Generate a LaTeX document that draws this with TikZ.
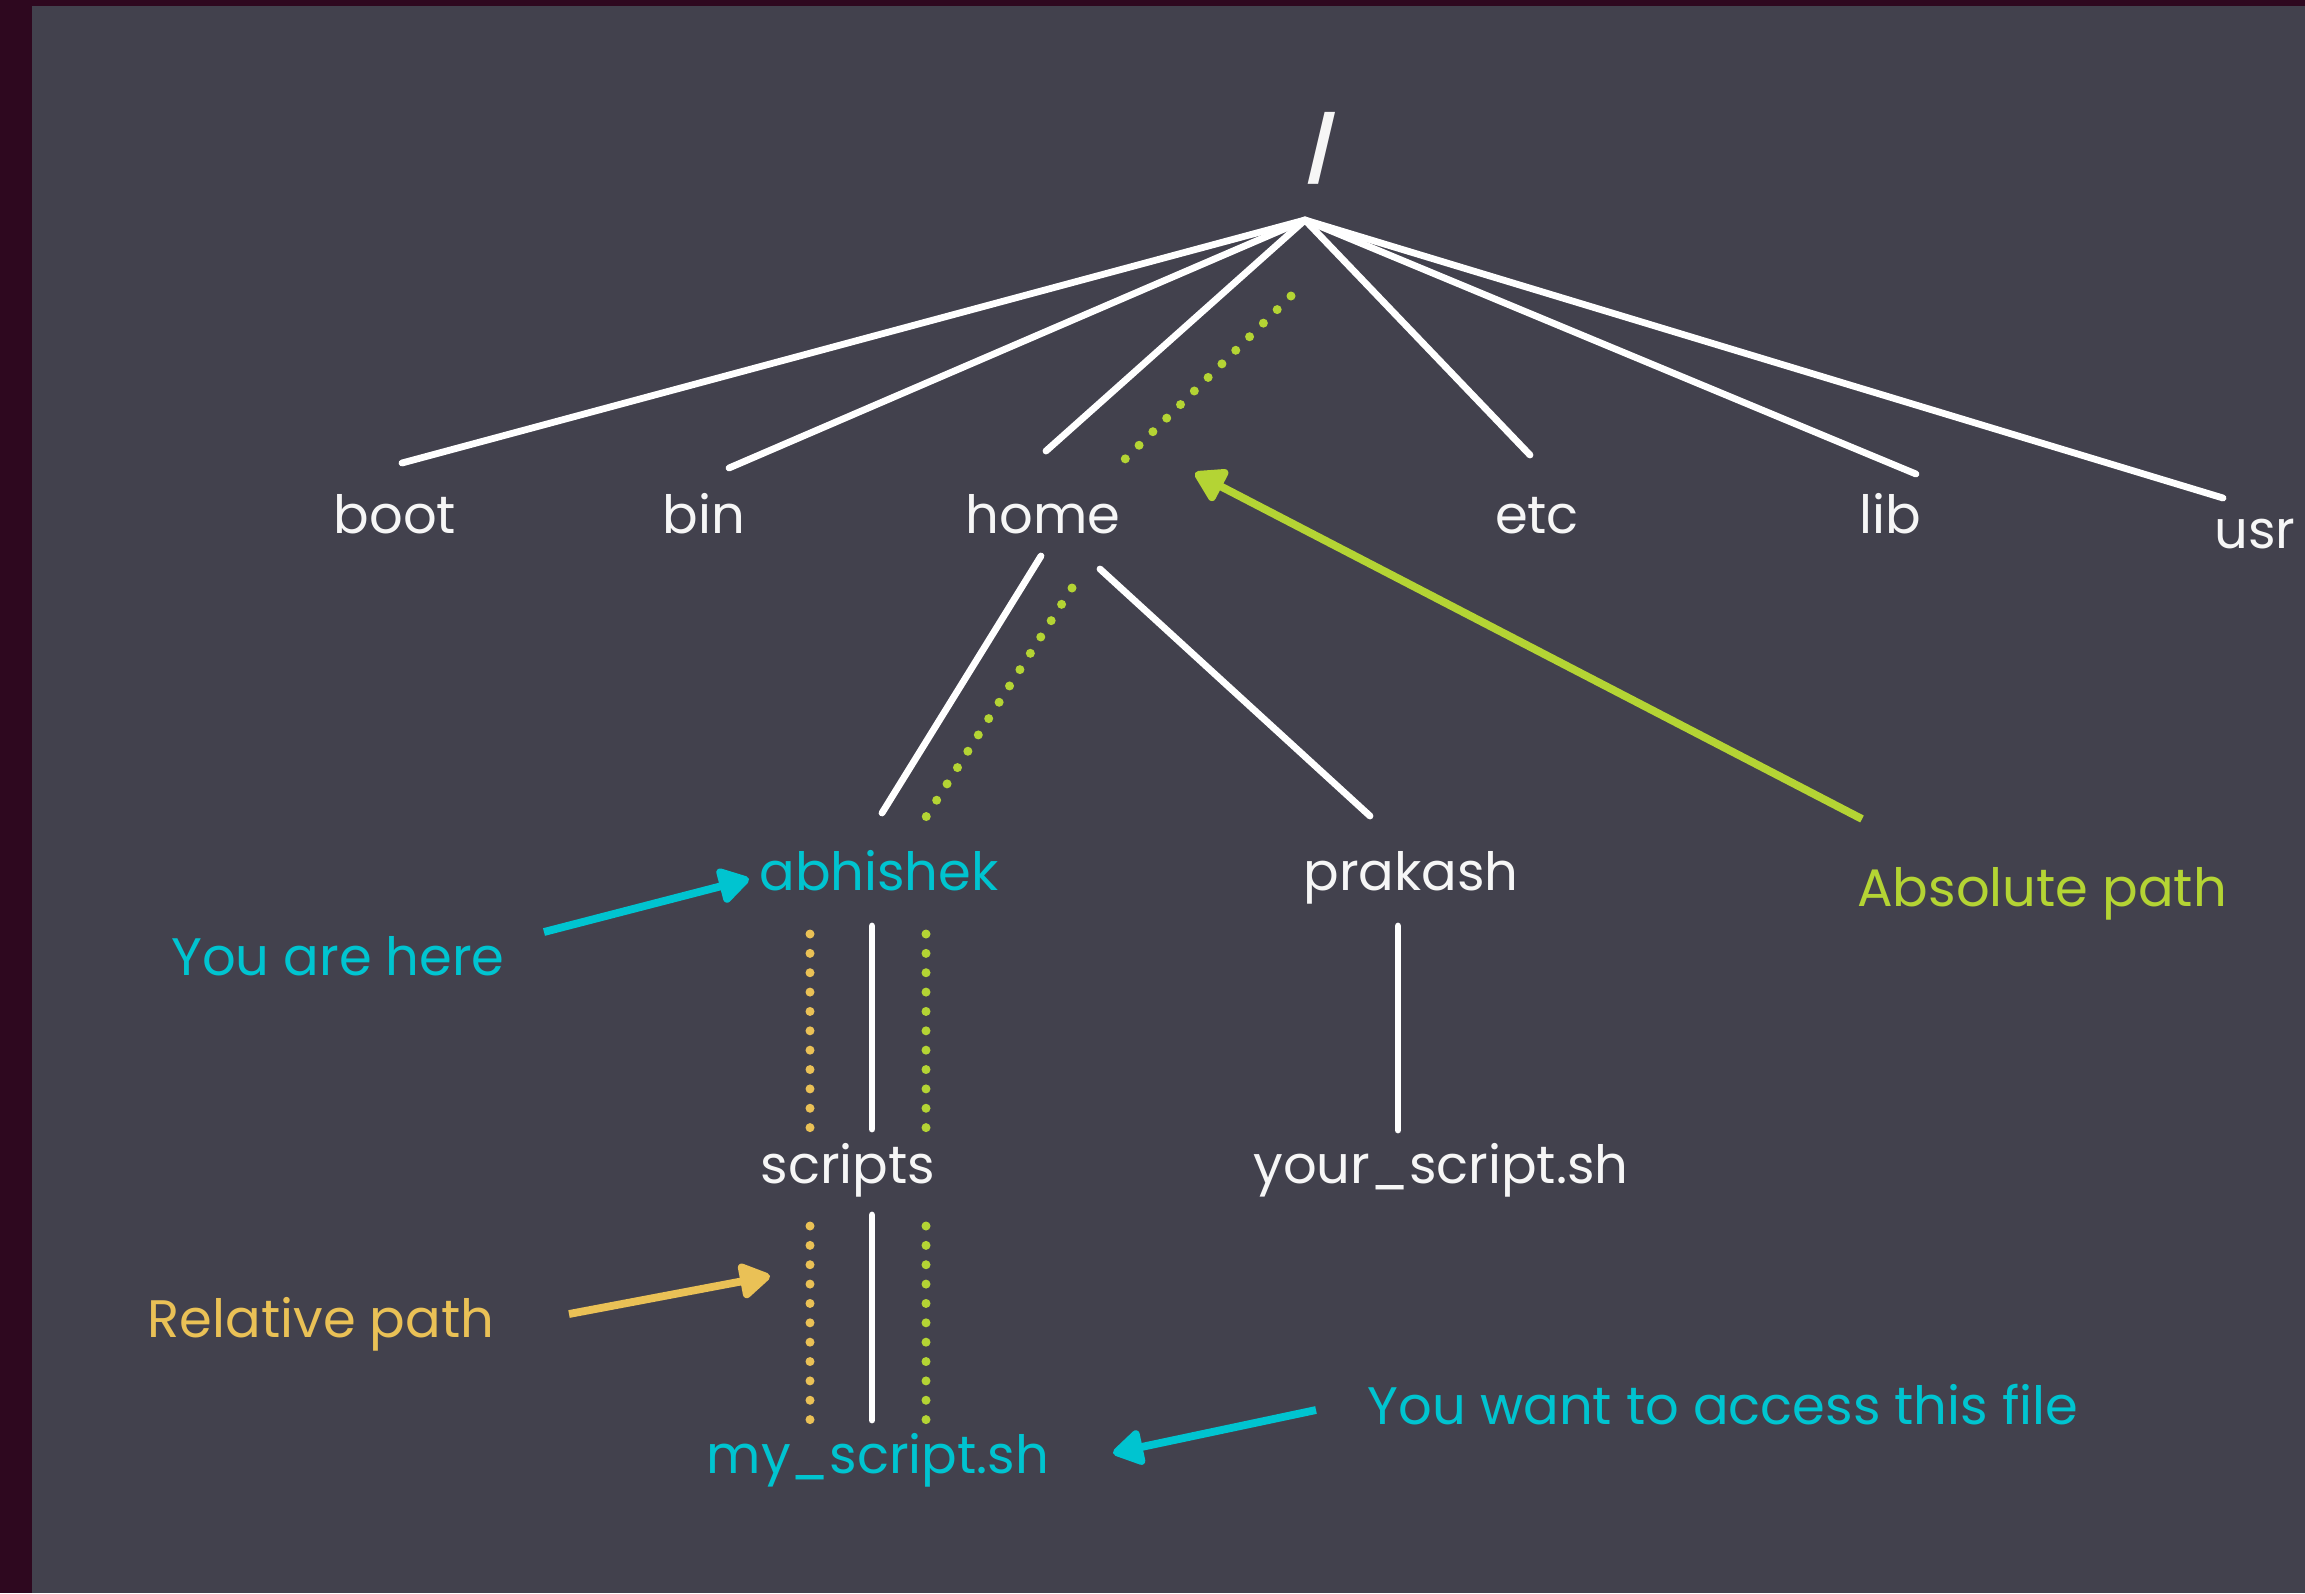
\documentclass[tikz,border=0pt]{standalone}
\usepackage{fontspec}
\setmainfont{Poppins}
\usetikzlibrary{arrows.meta,calc}

\definecolor{frame}{RGB}{46,8,31}
\definecolor{panel}{RGB}{66,65,77}
\definecolor{pathcyan}{RGB}{0,196,208}
\definecolor{pathgreen}{RGB}{180,212,52}
\definecolor{pathyellow}{RGB}{234,193,86}
\definecolor{textwhite}{RGB}{246,246,246}

\begin{document}
\begin{tikzpicture}[x=0.01cm,y=-0.01cm,
  dirname/.style={text=textwhite,font=\fontsize{15}{18}\selectfont,anchor=base,inner sep=0pt},
  note/.style={font=\fontsize{15}{18}\selectfont,anchor=base,inner sep=0pt},
  branch/.style={draw=white,line width=0.068cm,line cap=round},
  trail/.style={line width=0.09cm,line cap=round,dash pattern=on 0pt off 0.1935cm},
  pointer/.style={line width=0.078cm,-{Triangle[length=0.34cm,width=0.39cm,round]}},
]
% window frame and panel
\fill[frame] (0,0) rectangle (2305,1593);
\fill[panel] (32,6) rectangle (2305,1593);
\useasboundingbox (0,0) rectangle (2305,1593);

% directory names
\node[dirname,anchor=center,font=\bfseries\fontsize{18}{22}\selectfont] (root) at (1322,148) {/};
\node[dirname] (boot) at (395,533) {boot};
\node[dirname] (bin) at (704,533) {bin};
\node[dirname] (home) at (1043,533) {home};
\node[dirname] (etc) at (1537,533) {etc};
\node[dirname] (lib) at (1890,533) {lib};
\node[dirname] (usr) at (2255,548) {usr};
\node[dirname,text=pathcyan] (abhishek) at (879,890) {abhishek};
\node[dirname] (prakash) at (1411,890) {prakash};
\node[dirname] (scripts) at (848,1183) {scripts};
\node[dirname] (yourscript) at (1441,1183) {your\_script.sh};
\node[dirname,text=pathcyan] (myscript) at (878,1473) {my\_script.sh};

% annotations
\node[note,text=pathcyan] (here) at (338,975) {You are here};
\node[note,text=pathyellow] (relative) at (321,1337) {Relative path};
\node[note,text=pathgreen] (absolute) at (2042,906) {Absolute path};
\node[note,text=pathcyan] (target) at (1723,1424) {You want to access this file};

% attachment points of the tree branches
\coordinate (hub) at (1305,220);
\coordinate (boot-in) at (402,463);
\coordinate (bin-in) at (729,468);
\coordinate (home-in) at (1046,451);
\coordinate (etc-in) at (1530,455);
\coordinate (lib-in) at (1916,474);
\coordinate (usr-in) at (2223,498);
\coordinate (home-outl) at (1041,556);
\coordinate (home-outr) at (1100,569);
\coordinate (abhishek-in) at (882,813);
\coordinate (prakash-in) at (1370,816);
\coordinate (abhishek-out) at (872,926);
\coordinate (scripts-in) at (872,1129);
\coordinate (scripts-out) at (872,1215);
\coordinate (myscript-in) at (872,1420);
\coordinate (prakash-out) at (1398,926);
\coordinate (yourscript-in) at (1398,1130);

% tree branches
\draw[branch] (hub) -- (boot-in);
\draw[branch] (hub) -- (bin-in);
\draw[branch] (hub) -- (home-in);
\draw[branch] (hub) -- (etc-in);
\draw[branch] (hub) -- (lib-in);
\draw[branch] (hub) -- (usr-in);
\draw[branch] (home-outl) -- (abhishek-in);
\draw[branch] (home-outr) -- (prakash-in);
\draw[branch] (abhishek-out) -- (scripts-in);
\draw[branch] (scripts-out) -- (myscript-in);
\draw[branch] (prakash-out) -- (yourscript-in);

% absolute path trail (segment lengths just over whole multiples of the dot pitch)
\coordinate (abs1a) at (1291,296);
\coordinate (abs1b) at (1125.2,458.9);
\coordinate (abs2a) at (1072,588);
\coordinate (abs2b) at (926.2,816.6);
\coordinate (abs3a) at (926,934);
\coordinate (abs3b) at (926,1127.8);
\coordinate (abs4a) at (926,1226);
\coordinate (abs4b) at (926,1419.8);
\draw[trail,pathgreen] (abs1a) -- (abs1b);
\draw[trail,pathgreen] (abs2a) -- (abs2b);
\draw[trail,pathgreen] (abs3a) -- (abs3b);
\draw[trail,pathgreen] (abs4a) -- (abs4b);

% relative path trail
\coordinate (rel1a) at (810,934);
\coordinate (rel1b) at (810,1127.8);
\coordinate (rel2a) at (810,1226);
\coordinate (rel2b) at (810,1419.8);
\draw[trail,pathyellow] (rel1a) -- (rel1b);
\draw[trail,pathyellow] (rel2a) -- (rel2b);

% pointers from the annotations
\coordinate (here-tail) at (544,932);
\coordinate (here-tip) at (749,879);
\coordinate (relative-tail) at (569,1314);
\coordinate (relative-tip) at (770,1276);
\coordinate (target-tail) at (1316,1410);
\coordinate (target-tip) at (1113,1453);
\coordinate (absolute-tail) at (1862,819);
\coordinate (absolute-tip) at (1195,473);
\draw[pointer,pathcyan] (here-tail) -- (here-tip);
\draw[pointer,pathyellow] (relative-tail) -- (relative-tip);
\draw[pointer,pathcyan] (target-tail) -- (target-tip);
\draw[pointer,pathgreen] (absolute-tail) -- (absolute-tip);
\end{tikzpicture}
\end{document}
